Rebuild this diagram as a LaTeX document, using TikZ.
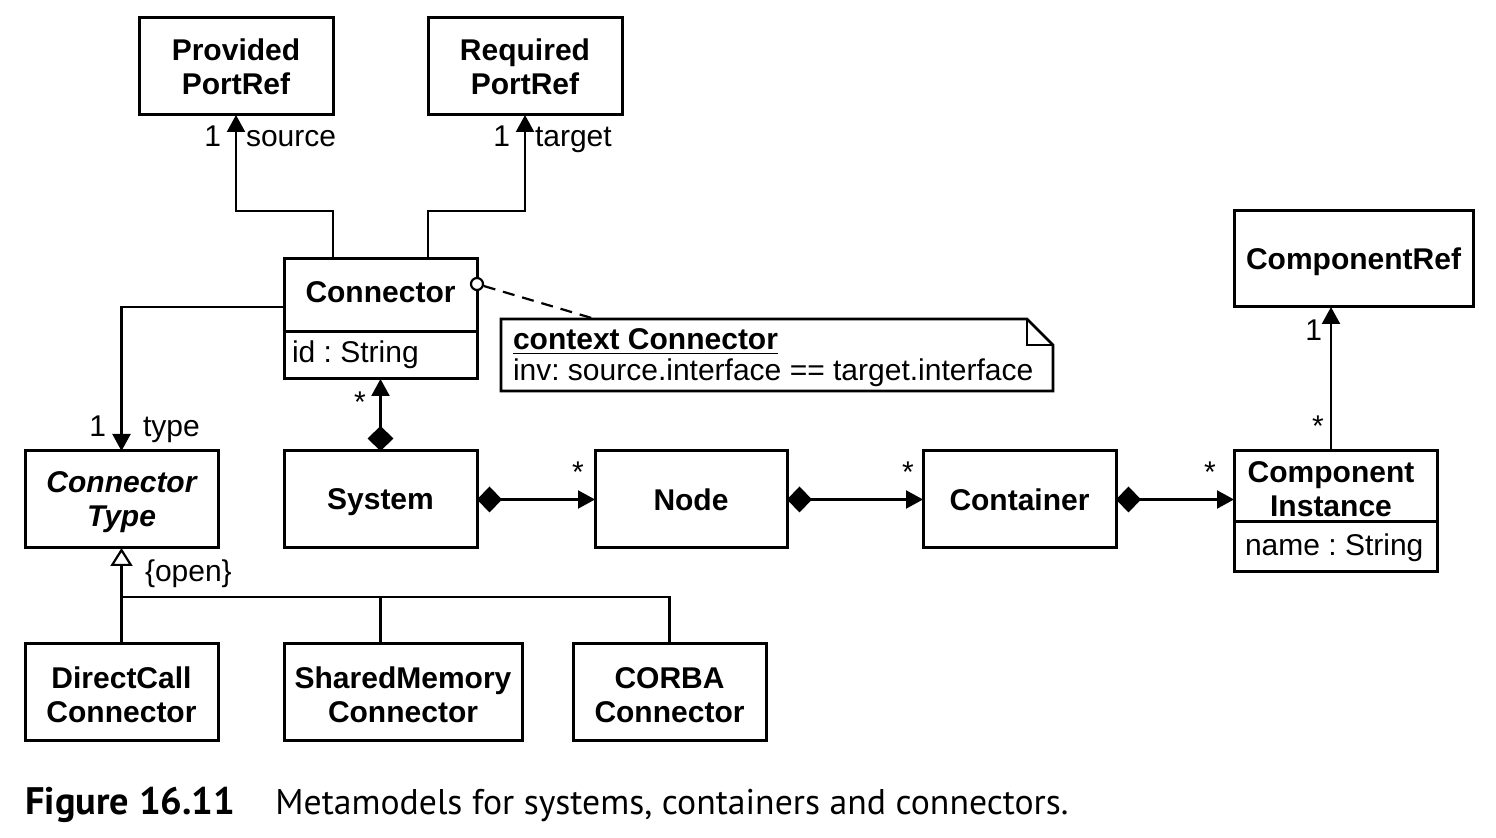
\documentclass[tikz,border=0pt]{standalone}
\usepackage{fontspec}
\setmainfont{Liberation Sans}
\newfontfamily\capfont{PT Sans}
\usetikzlibrary{arrows.meta}
\begin{document}
\frenchspacing
\begin{tikzpicture}[x=0.5pt,y=-0.5pt,
  box/.style={draw, line width=1.5pt, inner sep=0pt, outer sep=0pt, align=center,
    font=\fontsize{15}{17}\selectfont\bfseries},
  single/.style={text depth=0pt},
  txt/.style={inner sep=0pt, outer sep=0pt, font=\fontsize{15}{17}\selectfont},
  btxt/.style={inner sep=0pt, outer sep=0pt, align=center, font=\fontsize{15}{17}\selectfont\bfseries},
  tri/.tip={Triangle[length=8.5pt,width=9pt]},
  assoc/.style={line width=1.1pt, -tri},
  comp/.style={line width=1.1pt, {Diamond[length=12.5pt,width=13pt]}-tri},
  gen/.style={line width=1.1pt, -{Triangle[open,length=9pt,width=11pt,fill=white]}},
  plainline/.style={line width=1.1pt},
  rule/.style={line width=1.5pt},
]
\useasboundingbox (0,0) rectangle (1496,838);
\fill[white] (0,0) rectangle (1496,838);

% classes
\node[box, minimum width=97pt, minimum height=48.5pt] (pp) at (236,66.5) {Provided\\PortRef};
\node[box, minimum width=97pt, minimum height=48.5pt] (rp) at (525,66.5) {Required\\PortRef};
\node[box, minimum width=96.5pt, minimum height=60pt] (conn) at (380.5,319) {};
\node[btxt] (connname) at (380.5,292) {Connector};
\draw[rule] (284,332) -- (477,332);
\node[txt, anchor=base west] (connattr) at (292,363) {id : String};

\node[box, single, minimum width=119.5pt, minimum height=48pt] (cref) at (1353.5,259) {ComponentRef};

\node[box, minimum width=96.5pt, minimum height=48.5pt] (ct) at (121.5,499.5) {};
\node[btxt, font=\fontsize{15}{17}\selectfont\bfseries\itshape] (ctname) at (121.5,502.5) {Connector\\Type};
\node[box, single, minimum width=96.5pt, minimum height=48.5pt] (sys) at (380.5,499.5) {System};
\node[box, single, minimum width=96pt, minimum height=48.5pt] (nd) at (691,499.5) {Node};
\node[box, single, minimum width=96.5pt, minimum height=48.5pt] (cont) at (1019.5,499.5) {Container};

\node[box, minimum width=101.5pt, minimum height=60.5pt] (ci) at (1335.5,511.5) {};
\node[btxt] (ciname) at (1331,489) {Component\\Instance};
\draw[rule] (1234,522) -- (1437,522);
\node[txt, anchor=base west] (ciattr) at (1245,556) {name : String};

\node[box, minimum width=96.5pt, minimum height=48.5pt] (dc) at (121.5,692.5) {};
\node[btxt] (dcname) at (121.5,694.5) {DirectCall\\Connector};
\node[box, minimum width=119pt, minimum height=48.5pt] (sm) at (403,692.5) {};
\node[btxt] (smname) at (403,694.5) {SharedMemory\\Connector};
\node[box, minimum width=96.5pt, minimum height=48.5pt] (corba) at (669.5,692.5) {};
\node[btxt] (corbaname) at (669.5,695) {CORBA\\Connector};

% note
\node[inner sep=0pt, outer sep=0pt, minimum width=276pt, minimum height=36pt] (note) at (777,355) {};
\draw[rule, line width=1.4pt] (note.north west) -- ([xshift=-13pt]note.north east) -- ([yshift=-13pt]note.north east) -- (note.south east) -- (note.south west) -- cycle;
\draw[rule, line width=1.4pt] ([xshift=-13pt]note.north east) |- ([yshift=-13pt]note.north east);
\node[btxt, anchor=base west] (notehead) at (513,350) {\underline{context Connector}};
\node[txt, anchor=base west] (notebody) at (513,381) {inv: source.interface == target.interface};

% anchor circle and dashed link
\node[circle, draw, line width=1.1pt, fill=white, minimum size=6pt, inner sep=0pt] (anc) at (477,284) {};
\coordinate (notetop) at (595,319);
\draw[plainline, dash pattern=on 6pt off 4pt] (anc) -- (notetop);

% associations
\draw[assoc] (conn.north -| pp.east) -- ++(0,-48) -| (pp.south);
\draw[assoc] (conn.north -| rp.west) -- ++(0,-48) -| (rp.south);
\draw[assoc] ([yshift=6pt]conn.west) -| (ct.north);
\coordinate (citop) at (1331,451);
\draw[assoc] (citop) -- (citop |- cref.south);

% compositions
\draw[comp] (sys.north) -- (conn.south);
\draw[comp] (sys.east) -- (nd.west);
\draw[comp] (nd.east) -- (cont.west);
\draw[comp] (cont.east) -- (cont.east -| ci.west);

% generalization
\coordinate (gj) at (121.5,597);
\draw[gen] (dc.north) -- (ct.south);
\draw[plainline] (sm.north -| sys.south) |- (gj);
\draw[plainline] (corba.north) |- (gj);

% labels
\node[txt, anchor=base east] (l1) at (221,147) {1};
\node[txt, anchor=base west] (l2) at (246,147) {source};
\node[txt, anchor=base east] (l3) at (510,147) {1};
\node[txt, anchor=base west] (l4) at (535,147) {target};
\node[txt, anchor=base east] (l5) at (106,437) {1};
\node[txt, anchor=base west] (l6) at (143,437) {type};
\node[txt, anchor=base west] (l7) at (145,582) {\{open\}};
\node[txt, anchor=base] (l8) at (360,413) {*};
\node[txt, anchor=base] (l9) at (578,483) {*};
\node[txt, anchor=base] (l10) at (908,483) {*};
\node[txt, anchor=base] (l11) at (1210,483) {*};
\node[txt, anchor=base] (l12) at (1318,437) {*};
\node[txt, anchor=base east] (l13) at (1322,341) {1};

% caption
\node[inner sep=0pt, anchor=base west] (capnum) at (25,815) {\resizebox{105pt}{!}{\capfont\bfseries Figure 16.11}};
\node[inner sep=0pt, anchor=base west] (captext) at (275,815) {\resizebox{396.5pt}{!}{\capfont Metamodels for systems, containers and connectors.}};
\end{tikzpicture}
\end{document}
